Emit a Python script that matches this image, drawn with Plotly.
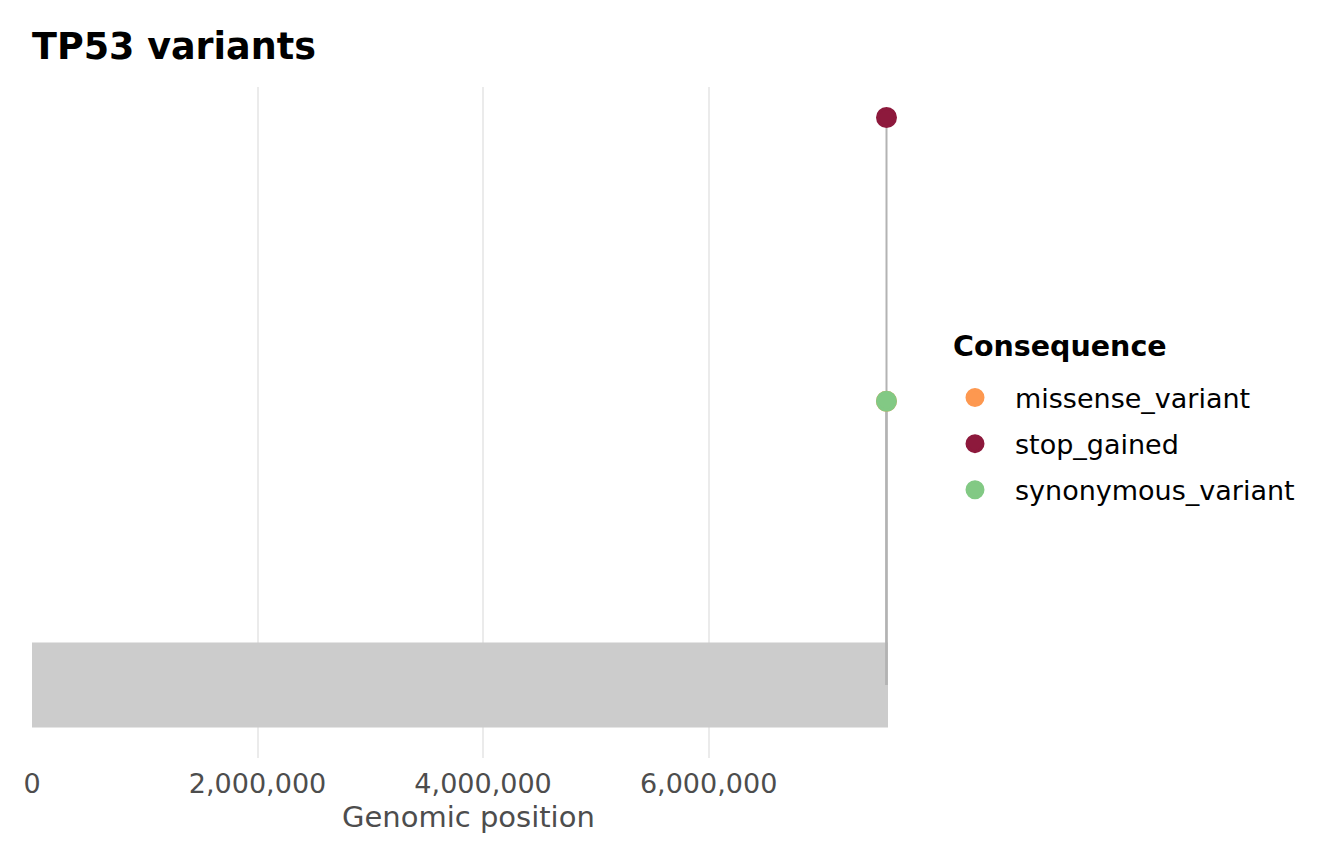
import plotly.graph_objects as go

# ---- data ----
gene_name = "TP53"
gene_start = 0
gene_end = 7590856
consequences = ["missense_variant", "stop_gained", "synonymous_variant"]
positions = [7577120, 7577538, 7577120]
counts = [1, 2, 1]
colors = {"missense_variant": "rgb(253,152,80)",
          "stop_gained": "rgb(141,25,60)",
          "synonymous_variant": "rgb(130,201,132)"}
x_ticks = [0, 2000000, 4000000, 6000000]

OFF = 8  # page body margin
W, H = 1344 - OFF, 864 - OFF
L, R, T, B = 32 - OFF, 888 - OFF, 87 - OFF, 758 - OFF
PW, PH = R - L, B - T


def px_x(x):  # reference page px -> paper x
    return (x - OFF - L) / PW


def px_y(y):  # reference page px -> paper y
    return 1 - (y - OFF - T) / PH


fig = go.Figure()

# gene body rectangle (filled trace so it sits above gridlines)
fig.add_trace(go.Scatter(x=[gene_start, gene_end, gene_end, gene_start, gene_start],
                         y=[-0.15, -0.15, 0.15, 0.15, -0.15], mode="lines",
                         fill="toself", fillcolor="#CCCCCC", line=dict(width=0),
                         showlegend=False, hoverinfo="skip"))

# lollipop stems
for p, c in zip(positions, counts):
    fig.add_trace(go.Scatter(x=[p, p], y=[0, c], mode="lines",
                             line=dict(color="#B3B3B3", width=2),
                             showlegend=False, hoverinfo="skip", cliponaxis=False))

# points
for cons, p, c in zip(consequences, positions, counts):
    fig.add_trace(go.Scatter(x=[p], y=[c], mode="markers", name=cons,
                             legendgroup=cons, cliponaxis=False,
                             marker=dict(size=18, color=colors[cons],
                                         line=dict(width=3, color=colors[cons]))))

fig.add_annotation(text="Genomic position", xref="paper", yref="paper",
                   x=px_x(468), y=px_y(817), xanchor="center", yanchor="middle",
                   showarrow=False, font=dict(size=29, color="#4D4D4D"))
fig.add_annotation(text="<b>Consequence</b>", xref="paper", yref="paper",
                   x=px_x(953), y=px_y(346), xanchor="left", yanchor="middle",
                   showarrow=False, xshift=-2, font=dict(size=28.5, color="black"))

fig.update_layout(
    width=W, height=H,
    margin=dict(l=L, r=W - R, t=T, b=H - B),
    paper_bgcolor="white", plot_bgcolor="white",
    font=dict(family="DejaVu Sans", color="black"),
    title=dict(text="<b>TP53 variants</b>", x=L / W, xanchor="left", xref="container",
               y=1 - (46 - OFF) / H, yanchor="middle", yref="container",
               font=dict(size=36.5, color="black")),
    xaxis=dict(range=[gene_start, gene_end], tickvals=x_ticks, tickformat=",",
               showgrid=True, gridcolor="#EBEBEB", gridwidth=1.5, zeroline=False,
               showline=False, ticks="", tickfont=dict(size=27, color="#4D4D4D"),
               ticklabelstandoff=7),
    yaxis=dict(range=[-0.2575, 2.1075], showgrid=False, zeroline=False,
               showticklabels=False, ticks="", showline=False),
    legend=dict(x=px_x(935), xanchor="left", y=px_y(444), yanchor="middle",
                tracegroupgap=8, traceorder="grouped", itemwidth=70,
                font=dict(size=27), itemsizing="trace"),
)

fig.write_html("out.html")
